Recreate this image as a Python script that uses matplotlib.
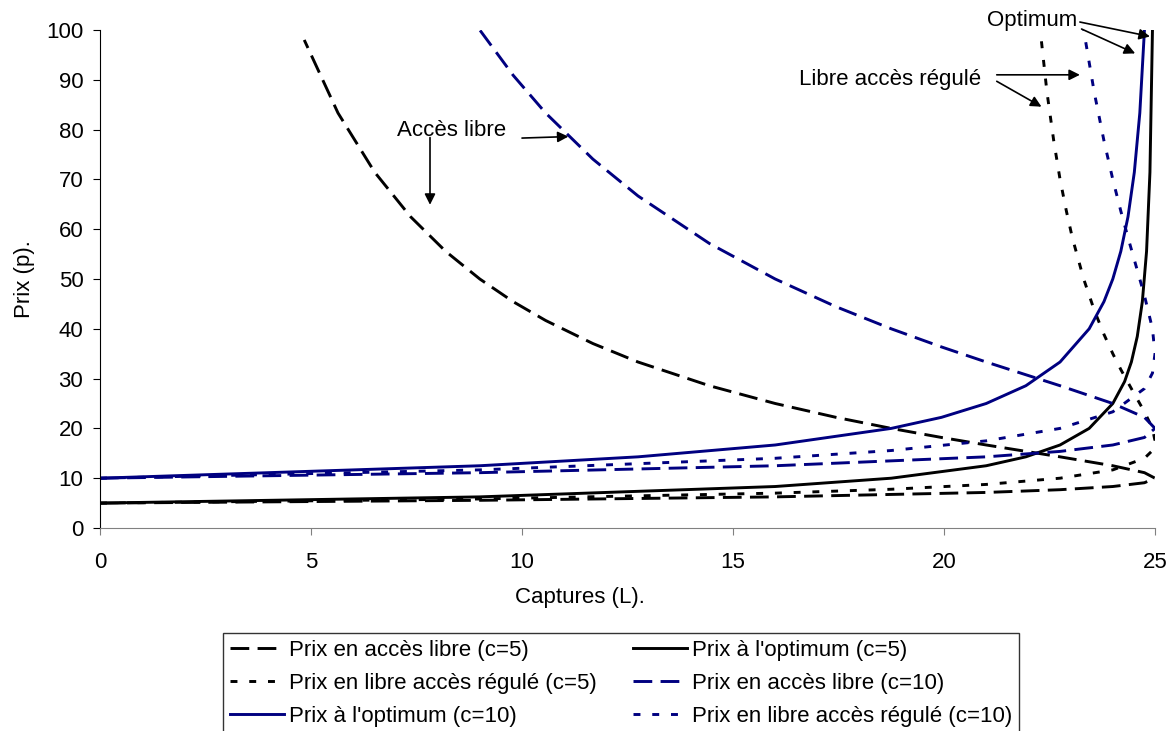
import matplotlib
matplotlib.use("Agg")
import matplotlib.pyplot as plt

plt.rcParams['font.family'] = ['Liberation Sans', 'DejaVu Sans']
plt.rcParams['lines.scale_dashes'] = False

# price vs catch (lower branch first, then back up)
oa5_L = [0, 9, 16, 21, 22.75, 24, 24.75, 25, 24.75, 24, 22.75, 21, 19.94, 18.75, 17.44, 16, 14.44, 12.75,
         11.68, 10.56, 9.79, 9, 8.19, 7.36, 6.51, 5.64, 4.84]
oa5_p = [5, 5.56, 6.25, 7.14, 7.69, 8.33, 9.09, 10, 11.11, 12.5, 14.29, 16.67, 18.18, 20, 22.22, 25, 28.57, 33.33,
         37.04, 41.67, 45.45, 50, 55.56, 62.5, 71.43, 83.33, 98]

opt5_L = [0, 9, 16, 18.75, 21, 21.94, 22.75, 23.44, 24, 24.28, 24.44, 24.58, 24.7, 24.8, 24.88, 24.94]
opt5_p = [5, 6.25, 8.33, 10, 12.5, 14.29, 16.67, 20, 25, 29.41, 33.33, 38.46, 45.45, 55.56, 71.43, 100]

reg5_L = [0, 9, 16, 18.75, 21, 22.75, 24, 24.75, 24.94, 25, 24.94, 24.75, 24.51, 24.19, 24, 23.79, 23.56,
          23.31, 23.04, 22.9, 22.75, 22.6, 22.44, 22.28]
reg5_p = [5, 5.83, 7, 7.78, 8.75, 10, 11.67, 14, 15.56, 17.5, 20, 23.33, 26.92, 31.82, 35, 38.89, 43.75,
          50, 58.33, 63.64, 70, 77.78, 87.5, 100]

oa10_L = [0, 9, 16, 21, 22.75, 24, 24.75, 25, 24.75, 24, 22.75, 21, 19.94, 18.75, 17.44, 16, 14.44, 12.75,
          11.68, 10.56, 9.79, 9]
oa10_p = [10, 11.11, 12.5, 14.29, 15.38, 16.67, 18.18, 20, 22.22, 25, 28.57, 33.33, 36.36, 40, 44.44, 50, 57.14, 66.67,
          74.07, 83.33, 90.91, 100]

opt10_L = [0, 9, 12.75, 16, 18.75, 19.94, 21, 21.94, 22.75, 23.44, 23.79, 24, 24.19, 24.36, 24.51, 24.64, 24.75]
opt10_p = [10, 12.5, 14.29, 16.67, 20, 22.22, 25, 28.57, 33.33, 40, 45.45, 50, 55.56, 62.5, 71.43, 83.33, 100]

reg10_L = [0, 9, 16, 18.75, 21, 22.75, 24, 24.75, 24.94, 25, 24.94, 24.75, 24.51, 24.36, 24.19, 24, 23.79, 23.56, 23.31]
reg10_p = [10, 11.67, 14, 15.56, 17.5, 20, 23.33, 28, 31.11, 35, 40, 46.67, 53.85, 58.33, 63.64, 70, 77.78, 87.5, 100]

navy = '#000080'
dash = (0, (13.5, 6))
dot = (0, (5, 8.5))
lw = 2.1
fs = 16

fig = plt.figure(figsize=(11.74, 7.31), dpi=100)
ax = fig.add_axes([100 / 1174, 203 / 731, 1055 / 1174, 498 / 731])

l_oa5, = ax.plot(oa5_L, oa5_p, color='black', lw=lw, linestyle=dash, label='Prix en accès libre (c=5)')
l_opt5, = ax.plot(opt5_L, opt5_p, color='black', lw=lw, label="Prix à l'optimum (c=5)")
l_reg5, = ax.plot(reg5_L, reg5_p, color='black', lw=lw, linestyle=dot, label='Prix en libre accès régulé (c=5)')
l_oa10, = ax.plot(oa10_L, oa10_p, color=navy, lw=lw, linestyle=dash, label='Prix en accès libre (c=10)')
l_opt10, = ax.plot(opt10_L, opt10_p, color=navy, lw=lw, label="Prix à l'optimum (c=10)")
l_reg10, = ax.plot(reg10_L, reg10_p, color=navy, lw=lw, linestyle=dot, label='Prix en libre accès régulé (c=10)')

ax.set_xlim(0, 25)
ax.set_ylim(0, 100)
ax.set_xticks([0, 5, 10, 15, 20, 25])
ax.set_yticks(range(0, 101, 10))
ax.spines['top'].set_visible(False)
ax.spines['right'].set_visible(False)
ax.spines['bottom'].set_color('#808080')
ax.tick_params(axis='x', length=5, color='#808080', pad=12, labelsize=fs)
ax.tick_params(axis='y', length=5, pad=7, labelsize=fs)

ax.set_xlabel('Captures (L).', fontsize=fs, va='center')
ax.xaxis.set_label_coords(0.455, -0.14)
ax.set_ylabel('Prix (p).', fontsize=fs, labelpad=8)

# callouts with arrows
arrow = dict(arrowstyle='-|>', color='black', lw=1.2, mutation_scale=16, shrinkA=0, shrinkB=0)
ax.text(8.32, 79.9, 'Accès libre', fontsize=fs, ha='center', va='center')
ax.annotate('', xy=(7.82, 64.9), xytext=(7.82, 78.4), arrowprops=arrow)
ax.annotate('', xy=(11.1, 78.6), xytext=(10.0, 78.3), arrowprops=arrow)

ax.text(18.72, 90.0, 'Libre accès régulé', fontsize=fs, ha='center', va='center', clip_on=False)
ax.annotate('', xy=(23.22, 91.0), xytext=(21.25, 91.0), arrowprops=arrow, annotation_clip=False)
ax.annotate('', xy=(22.31, 84.6), xytext=(21.25, 89.7), arrowprops=arrow, annotation_clip=False)

ax.text(22.09, 102.0, 'Optimum', fontsize=fs, ha='center', va='center', clip_on=False)
ax.annotate('', xy=(24.88, 98.7), xytext=(23.22, 101.6), arrowprops=arrow, annotation_clip=False)
ax.annotate('', xy=(24.53, 95.3), xytext=(23.26, 100.2), arrowprops=arrow, annotation_clip=False)

# excel fills the legend row by row, matplotlib column by column
handles = [l_oa5, l_reg5, l_opt10, l_opt5, l_oa10, l_reg10]
leg = fig.legend(handles, [h.get_label() for h in handles], loc='upper left',
                 bbox_to_anchor=(223 / 1174, 1 - 633 / 731), ncol=2, fontsize=fs,
                 frameon=True, fancybox=False, edgecolor='black', handlelength=2.45,
                 handletextpad=0.2, columnspacing=1.65, labelspacing=0.55,
                 borderpad=0.3, borderaxespad=0)
leg.get_frame().set_linewidth(1.0)

fig.savefig('out.png', dpi=100)
